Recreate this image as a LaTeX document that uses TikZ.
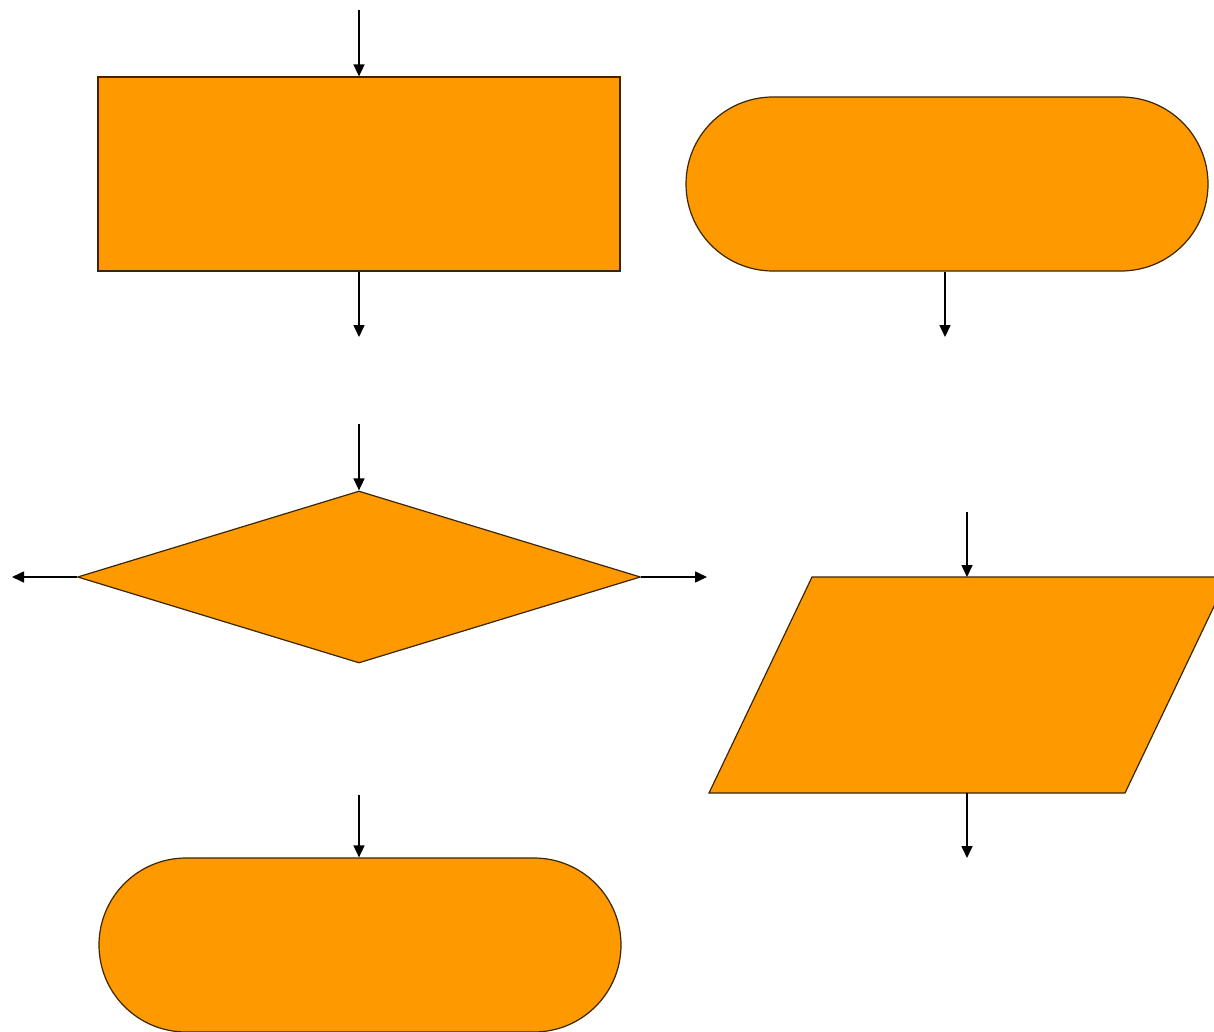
\documentclass[tikz,border=0pt]{standalone}
\usetikzlibrary{arrows.meta,shapes.geometric,shapes.misc}
\definecolor{boxfill}{HTML}{FF9900}
\definecolor{boxline}{HTML}{3A2600}
\begin{document}
\begin{tikzpicture}[x=0.5pt,y=-0.5pt,
  shapebox/.style={draw=boxline,fill=boxfill,line width=0.6pt,inner sep=0pt},
  flow/.style={line width=0.8pt,-{Triangle[width=5.5pt,length=6pt]}}]
\useasboundingbox (0,0) rectangle (1214,1032);
\clip (0,0) rectangle (1214,1032);

% process box
\node[shapebox,rectangle,minimum width=261pt,minimum height=97pt] (proc) at (359,174) {};
% terminator, upper right
\node[shapebox,rounded rectangle,minimum width=261pt,minimum height=87pt] (term1) at (947,184) {};
% decision
\node[shapebox,diamond,minimum width=281.5pt,minimum height=86pt] (dec) at (359,577) {};
% terminator, bottom
\node[shapebox,rounded rectangle,minimum width=261pt,minimum height=87pt] (term2) at (360,945) {};
% input/output
\draw[shapebox] (812,577) -- (1228,577) -- (1125,793) -- (709,793) -- cycle;
\coordinate (iotop) at (967,577);
\coordinate (iobot) at (967,793);

% free ends of the connectors
\coordinate (procin) at (359,10);
\coordinate (procout) at (359,337);
\coordinate (term1out) at (945,337);
\coordinate (decin) at (359,424);
\coordinate (decleft) at (12,577);
\coordinate (decright) at (707,577);
\coordinate (ioin) at (967,512);
\coordinate (ioout) at (967,858);
\coordinate (term2in) at (359,795);

\draw[flow] (procin) -- (proc.north);
\draw[flow] (proc.south) -- (procout);
\draw[flow] (term1.south -| term1out) -- (term1out);
\draw[flow] (decin) -- (dec.north);
\draw[flow] (dec.west) -- (decleft);
\draw[flow] (dec.east) -- (decright);
\draw[flow] (ioin) -- (iotop);
\draw[flow] (iobot) -- (ioout);
\draw[flow] (term2in) -- (term2.north -| term2in);
\end{tikzpicture}
\end{document}
